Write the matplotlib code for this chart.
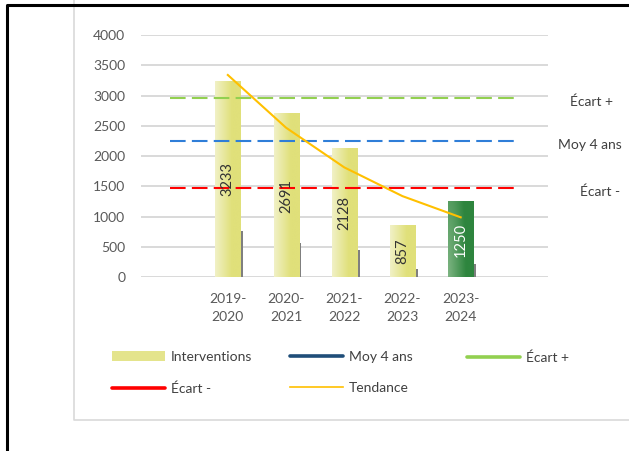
import numpy as np
import matplotlib
matplotlib.use("Agg")
import matplotlib.pyplot as plt
from matplotlib.lines import Line2D
from matplotlib.patches import Patch
from matplotlib.colors import to_rgb

plt.rcParams['font.family'] = ['Lato', 'DejaVu Sans']

# donnees
saisons = ["2019-\n2020", "2020-\n2021", "2021-\n2022", "2022-\n2023", "2023-\n2024"]
interventions = [3233, 2691, 2128, 857, 1250]
ombre = [765, 570, 450, 140, 220]          # petite serie grise a droite des colonnes
tendance = [3340, 2470, 1815, 1340, 990]
moy_4_ans = 2245
ecart_plus = 2960
ecart_moins = 1475

GRIS_TXT = "#595959"
JAUNE_CLAIR, JAUNE = "#f1f1c6", "#e0e07a"
VERT_CLAIR, VERT = "#7db482", "#2e853e"

fig = plt.figure(figsize=(6.29, 4.51), dpi=100)
ax = fig.add_axes([140.5 / 629, 1 - 277.3 / 451, 407.5 / 629, 242.3 / 451])

x = np.arange(len(saisons))
bars = ax.bar(x, interventions, width=0.43, color="none", zorder=2)
ax.bar(x + 0.24, ombre, width=0.05, color="#7f7f7f", zorder=2)


def degrade(c0, c1, nx, ny, radial=False):
    a, b = np.array(to_rgb(c0)), np.array(to_rgb(c1))
    u = np.linspace(0, 1, nx)[None, :].repeat(ny, 0)
    if radial:
        v = np.linspace(0, 1, ny)[:, None].repeat(nx, 1)
        t = np.clip(np.sqrt(u ** 2 + (v * 0.35) ** 2) / 0.7, 0, 1)
    else:
        t = np.clip(u / 0.65, 0, 1)
    return a[None, None, :] * (1 - t[..., None]) + b[None, None, :] * t[..., None]


for i, b in enumerate(bars):
    x0, w, h = b.get_x(), b.get_width(), b.get_height()
    if i == len(bars) - 1:
        img = degrade(VERT_CLAIR, VERT, 60, 100, radial=True)
    else:
        img = degrade(JAUNE_CLAIR, JAUNE, 60, 2)
    ax.imshow(img, extent=(x0, x0 + w, h, 0), aspect="auto", zorder=2,
              interpolation="bilinear")
    couleur = "white" if i == len(bars) - 1 else "#333333"
    ax.text(b.get_x() + w / 2, h / 2, f"{interventions[i]}", rotation=90,
            ha="center", va="center", fontsize=10.5, color=couleur, zorder=6)

# lignes de reference
xs_ref = [-1, 5]
dash = (7.5, 3)
ax.plot(xs_ref, [ecart_plus] * 2, color="#92d050", lw=1.5, dashes=dash, zorder=3)
ax.plot(xs_ref, [moy_4_ans] * 2, color="#2f7ed8", lw=1.5, dashes=dash, zorder=3)
ax.plot(xs_ref, [ecart_moins] * 2, color="#ff0000", lw=1.5, dashes=dash, zorder=3)

ax.plot(x, tendance, color="#ffc000", lw=1.5, zorder=5)

for niveau, txt, xt in [(ecart_plus, "Écart +", 6.25), (moy_4_ans, "Moy 4 ans", 6.22),
                        (ecart_moins, "Écart -", 6.39)]:
    ax.annotate(txt, xy=(xt, niveau), xytext=(0, -3), textcoords="offset points",
                ha="center", va="center", fontsize=10, color="#404040",
                annotation_clip=False)

ax.set_xlim(-1.5, 5.5)
ax.set_ylim(0, 4000)
ax.set_yticks(range(0, 4001, 500))
ax.set_xticks(x)
ax.set_xticklabels(saisons, linespacing=1.6)
ax.grid(axis="y", color="#d9d9d9", lw=1.4, zorder=0)
ax.set_axisbelow(True)
for s in ax.spines.values():
    s.set_visible(False)
ax.tick_params(axis="both", length=0, labelsize=10, colors=GRIS_TXT)
ax.tick_params(axis="y", pad=11)
ax.tick_params(axis="x", pad=11)

# legende en trois colonnes
legendes = [
    ([Patch(facecolor="#e4e48c", edgecolor="none"),
      Line2D([], [], color="#ff0000", lw=2.6, solid_capstyle="round")],
     ["Interventions", "Écart -"], 112),
    ([Line2D([], [], color="#1f4e79", lw=2.6, solid_capstyle="round"),
      Line2D([], [], color="#ffc000", lw=1.2)],
     ["Moy 4 ans", "Tendance"], 290),
    ([Line2D([], [], color="#92d050", lw=2.6, solid_capstyle="round")],
     ["Écart +"], 467),
]
for handles, labels, px in legendes:
    fig.legend(handles, labels, loc="upper left", bbox_to_anchor=(px / 629, 1 - 351 / 451),
               frameon=False, borderpad=0, borderaxespad=0, handlelength=3.8,
               handleheight=0.65, handletextpad=0.45, labelspacing=1.38,
               fontsize=10, labelcolor="#404040")

# cadres
fig.add_artist(Line2D([74 / 629, 74 / 629, 1], [1, 1 - 420 / 451, 1 - 420 / 451],
                      color="#d9d9d9", lw=1.2))
fig.add_artist(Line2D([7 / 629, 7 / 629, 1], [0, 1 - 5 / 451, 1 - 5 / 451],
                      color="black", lw=2.2))

fig.savefig("out.png", dpi=100)
